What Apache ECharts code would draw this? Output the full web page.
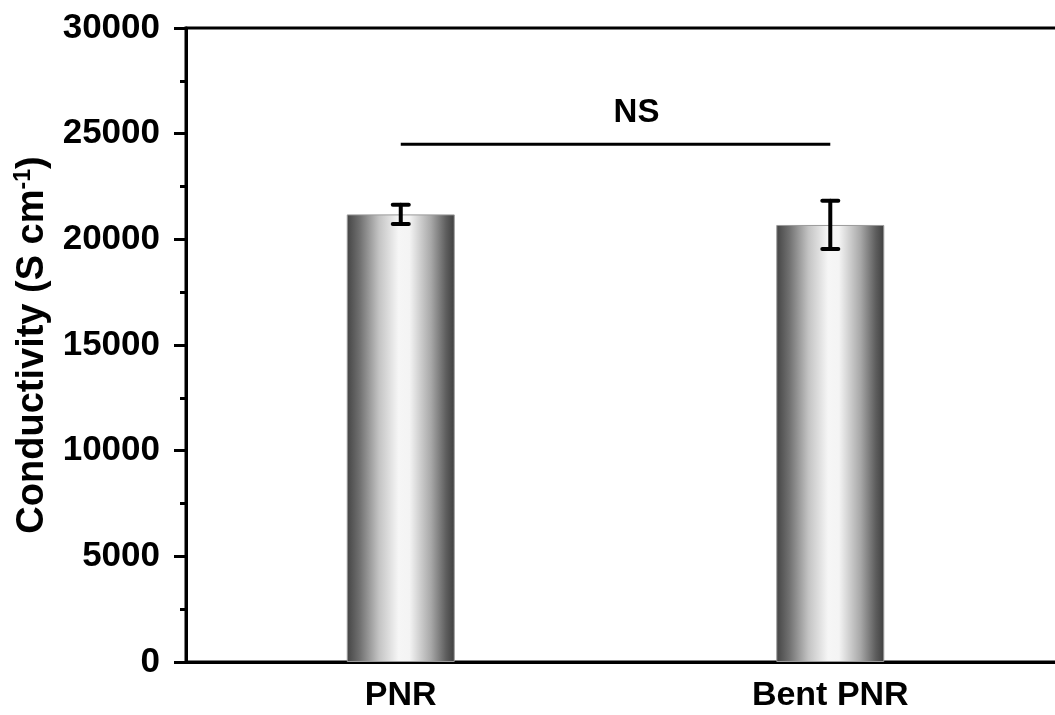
<!DOCTYPE html>
<html>
<head>
<meta charset="utf-8">
<script src="https://cdn.jsdelivr.net/npm/echarts@6/dist/echarts.min.js"></script>
<style>
  html, body { margin: 0; padding: 0; background: #fff; }
  #chart { width: 1055px; height: 715px; }
</style>
</head>
<body>
<div id="chart"></div>
<script>
// Conductivity of straight vs. bent PNR films
const categories = ['PNR', 'Bent PNR'];
const positions = [1, 2];
const conductivity = [21180, 20680];
const conductivityErr = [460, 1140];
const yTicks = [0, 5000, 10000, 15000, 20000, 25000, 30000];
const sigPair = [1, 2];
const sigLevel = 24500;
const sigText = 'NS';

const FONT = "'Liberation Sans', Arial, Helvetica, sans-serif";

const barData = positions.map((p, i) => [p, conductivity[i]]);
const errData = positions.map((p, i) => [p, conductivity[i], conductivityErr[i]]);

const chart = echarts.init(document.getElementById('chart'), null, { renderer: 'canvas' });

const barGradient = new echarts.graphic.LinearGradient(0, 0, 1, 0, [
  { offset: 0, color: '#444444' },
  { offset: 0.12, color: '#707070' },
  { offset: 0.3, color: '#c4c4c4' },
  { offset: 0.48, color: '#f6f6f6' },
  { offset: 0.58, color: '#f4f4f4' },
  { offset: 0.78, color: '#a8a8a8' },
  { offset: 0.92, color: '#5e5e5e' },
  { offset: 1, color: '#3e3e3e' }
]);

chart.setOption({
  animation: false,
  backgroundColor: '#ffffff',
  grid: {
    left: 186, top: 28, bottom: 53, width: 902,
    outerBoundsMode: 'none',
    containLabel: false,
    show: true, borderColor: '#000', borderWidth: 3, backgroundColor: 'transparent'
  },
  xAxis: {
    type: 'value',
    min: 0.5, max: 2.6,
    splitLine: { show: false },
    axisLine: { show: true, lineStyle: { color: '#000', width: 3 } },
    axisTick: { show: false },
    axisLabel: {
      customValues: positions,
      formatter: v => categories[positions.indexOf(v)] || '',
      color: '#000', fontFamily: FONT, fontWeight: 'bold', fontSize: 34, margin: 17
    }
  },
  yAxis: {
    type: 'value',
    min: yTicks[0], max: yTicks[yTicks.length - 1], interval: 5000,
    splitLine: { show: false },
    axisLine: { show: true, lineStyle: { color: '#000', width: 3 } },
    axisTick: { show: true, inside: false, length: 12, lineStyle: { color: '#000', width: 3 } },
    minorTick: { show: true, splitNumber: 2, length: 6, lineStyle: { color: '#000', width: 3 } },
    axisLabel: {
      formatter: v => String(v),
      color: '#000', fontFamily: FONT, fontWeight: 'bold', fontSize: 35, margin: 26
    },
    name: '{a|Conductivity (S cm}{s|-1}{a|)}',
    nameLocation: 'middle',
    nameGap: 124,
    nameRotate: 90,
    nameTextStyle: {
      rich: {
        a: { fontFamily: FONT, fontWeight: 'bold', fontSize: 38, color: '#000', lineHeight: 42 },
        s: { fontFamily: FONT, fontWeight: 'bold', fontSize: 23, color: '#000', verticalAlign: 'top', lineHeight: 42, padding: [0, 0, 17, 0] }
      }
    }
  },
  series: [
    {
      type: 'bar',
      data: barData,
      barWidth: 108,
      itemStyle: { color: barGradient, borderColor: '#9a9a9a', borderWidth: 1 },
      z: 2
    },
    {
      type: 'custom',
      data: errData,
      z: 5,
      renderItem: (params, api) => {
        const x = api.value(0), y = api.value(1), e = api.value(2);
        const top = api.coord([x, y + e]);
        const bot = api.coord([x, y - e]);
        const hw = 8;
        const st = { stroke: '#000', lineWidth: 4, lineCap: 'round' };
        return {
          type: 'group',
          children: [
            { type: 'line', shape: { x1: top[0], y1: top[1], x2: bot[0], y2: bot[1] }, style: st },
            { type: 'line', shape: { x1: top[0] - hw, y1: top[1], x2: top[0] + hw, y2: top[1] }, style: st },
            { type: 'line', shape: { x1: bot[0] - hw, y1: bot[1], x2: bot[0] + hw, y2: bot[1] }, style: st }
          ]
        };
      }
    },
    {
      type: 'custom',
      data: [[sigPair[0], sigPair[1], sigLevel]],
      z: 5,
      renderItem: (params, api) => {
        const a = api.coord([api.value(0), api.value(2)]);
        const b = api.coord([api.value(1), api.value(2)]);
        return {
          type: 'group',
          children: [
            { type: 'line', shape: { x1: a[0], y1: a[1], x2: b[0], y2: b[1] }, style: { stroke: '#000', lineWidth: 3 } },
            {
              type: 'text',
              style: {
                text: sigText, x: (a[0] + b[0]) / 2 + 21, y: a[1] - 15,
                align: 'center', verticalAlign: 'bottom',
                font: "bold 33px " + FONT, fill: '#000'
              }
            }
          ]
        };
      }
    }
  ]
});
</script>
</body>
</html>
